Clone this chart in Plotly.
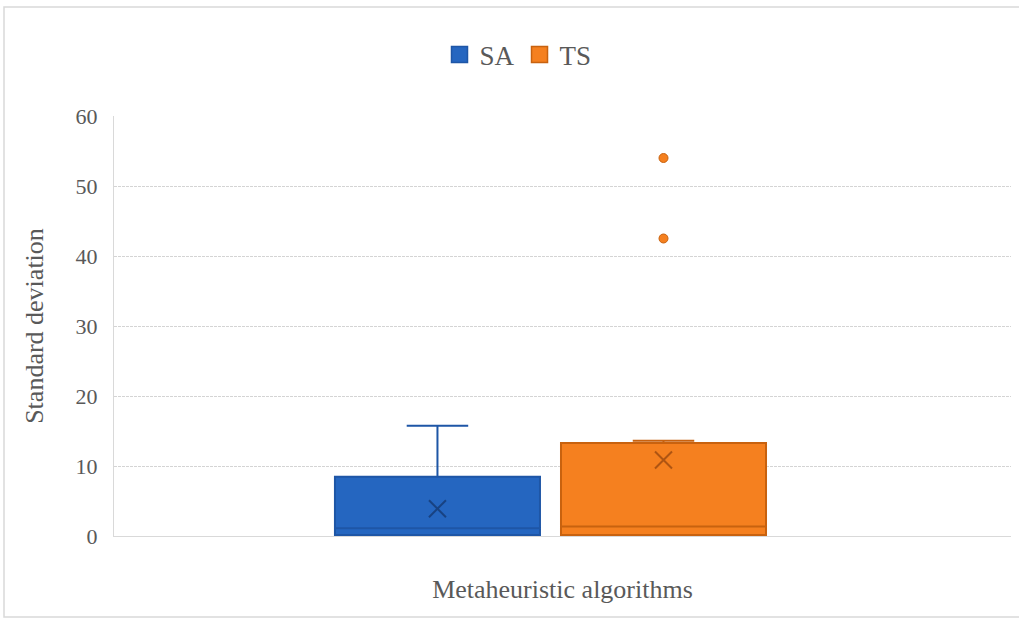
import plotly.graph_objects as go

# ---- data ----
category = ["Metaheuristic algorithms"]
series = ["SA", "TS"]
q1 = [0.15, 0.15]
median = [1.1, 1.35]
q3 = [8.45, 13.3]
lowerfence = [0.0, 0.0]
upperfence = [15.75, 13.6]
means = [3.9, 10.85]
outliers = {"SA": [], "TS": [54.0, 42.5]}

fills = ["#2566C0", "#F5801F"]
lines = ["#1E56A6", "#C8620F"]
mean_cols = ["rgba(20,55,110,0.75)", "rgba(150,70,15,0.75)"]

FONT = "Liberation Serif"
TXT = "#595959"

fig = go.Figure()
for i, s in enumerate(series):
    fig.add_trace(go.Box(
        name=s, x=category, q1=[q1[i]], median=[median[i]], q3=[q3[i]],
        lowerfence=[lowerfence[i]], upperfence=[upperfence[i]],
        fillcolor=fills[i], line=dict(color=lines[i], width=2),
        whiskerwidth=0.3, boxpoints=False, offsetgroup=s,
        showlegend=False, hoverinfo="skip",
    ))
for i, s in enumerate(series):
    # mean markers
    fig.add_trace(go.Scatter(
        x=category, y=[means[i]], mode="markers", offsetgroup=s,
        marker=dict(symbol="x-thin", size=17, line=dict(color=mean_cols[i], width=2)),
        showlegend=False, hoverinfo="skip",
    ))
    if outliers[s]:
        fig.add_trace(go.Scatter(
            x=category * len(outliers[s]), y=outliers[s], mode="markers", offsetgroup=s,
            marker=dict(symbol="circle", size=9, color=fills[i], line=dict(color=lines[i], width=1)),
            showlegend=False, hoverinfo="skip",
        ))
    # legend entry
    fig.add_trace(go.Scatter(
        x=[None], y=[None], mode="markers", name=s, offsetgroup=s,
        marker=dict(symbol="square", size=16, color=fills[i], line=dict(color=lines[i], width=1.5)),
    ))

fig.update_layout(
    width=1019, height=619,
    margin=dict(l=114, r=8, t=116, b=83, autoexpand=False),
    paper_bgcolor="white", plot_bgcolor="white",
    font=dict(family=FONT, color=TXT, size=22),
    boxmode="group", boxgap=0.496, boxgroupgap=0.093,
    scattermode="group", scattergap=0.496,
    legend=dict(orientation="h", x=(518 - 114) / 897, xanchor="center",
                y=(536 - 55) / 420, yanchor="middle",
                font=dict(family=FONT, size=27, color=TXT), itemwidth=30,
                traceorder="normal"),
    xaxis=dict(type="category", range=[-0.4866, 0.5134], showticklabels=False,
               showgrid=False, zeroline=False, showline=True, linecolor="#d9d9d9", linewidth=1,
               automargin=False,
               title=dict(text="Metaheuristic algorithms", standoff=43,
                          font=dict(family=FONT, size=26, color=TXT))),
    yaxis=dict(range=[0, 60], tickvals=[0, 10, 20, 30, 40, 50, 60],
               showgrid=True, gridcolor="#d4d4d4", gridwidth=1, griddash="3px,1px",
               zeroline=False, showline=True, linecolor="#d9d9d9", linewidth=1,
               ticks="", ticklabelstandoff=11, automargin=False,
               tickfont=dict(family=FONT, size=22, color=TXT),
               title=dict(text="Standard deviation", standoff=24,
                          font=dict(family=FONT, size=26, color=TXT))),
    shapes=[dict(type="rect", xref="paper", yref="paper",
                 x0=(4 - 114) / 897, x1=(1030 - 114) / 897,
                 y0=(536 - 617) / 420, y1=(536 - 7) / 420,
                 line=dict(color="#d9d9d9", width=1.5), fillcolor="rgba(0,0,0,0)", layer="below")],
)

fig.write_html("out.html", config={"displayModeBar": False},
               post_script="document.body.style.margin='0';document.body.style.overflow='hidden';")
